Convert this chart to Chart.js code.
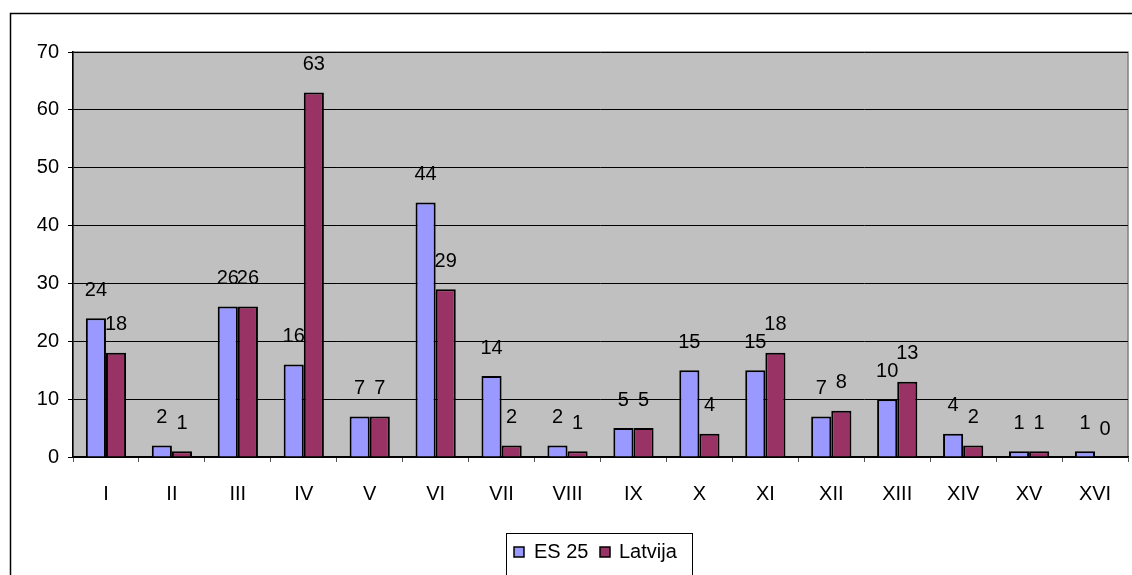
<!DOCTYPE html>
<html>
<head>
<meta charset="utf-8">
<script src="https://cdn.jsdelivr.net/npm/chart.js@4/dist/chart.umd.min.js"></script>
<style>
  html, body { margin: 0; padding: 0; background: #fff; }
  #wrap { width: 1132px; height: 575px; position: relative; }
</style>
</head>
<body>
<div id="wrap"><canvas id="chart" width="1132" height="575"></canvas></div>
<script>
const categories = ['I', 'II', 'III', 'IV', 'V', 'VI', 'VII', 'VIII', 'IX', 'X', 'XI', 'XII', 'XIII', 'XIV', 'XV', 'XVI'];
const es25 = [24, 2, 26, 16, 7, 44, 14, 2, 5, 15, 15, 7, 10, 4, 1, 1];
const latvija = [18, 1, 26, 63, 7, 29, 2, 1, 5, 4, 18, 8, 13, 2, 1, 0];
const seriesNames = ['ES 25', 'Latvija'];
const seriesColors = ['#9999FF', '#993366'];
const yTicks = [0, 10, 20, 30, 40, 50, 60, 70];

const FONT = 'Arial, "Liberation Sans", sans-serif';

const framePlugin = {
  id: 'frame',
  beforeDraw(chart) {
    const { ctx, chartArea: a } = chart;
    ctx.save();
    ctx.fillStyle = '#fff';
    ctx.fillRect(0, 0, chart.width, chart.height);
    // outer chart border
    ctx.strokeStyle = '#000';
    ctx.lineWidth = 1.5;
    ctx.strokeRect(10.5, 13.5, chart.width + 20, chart.height + 20);
    // plot background
    ctx.fillStyle = '#C0C0C0';
    ctx.fillRect(a.left, a.top, a.right - a.left, a.bottom - a.top);
    ctx.strokeStyle = '#808080';
    ctx.lineWidth = 1.5;
    ctx.strokeRect(a.left, a.top, a.right - a.left, a.bottom - a.top);
    ctx.restore();
  },
  afterDraw(chart) {
    const { ctx } = chart;
    ctx.save();
    // value labels
    ctx.font = '20px ' + FONT;
    ctx.fillStyle = '#000';
    ctx.textAlign = 'center';
    ctx.textBaseline = 'middle';
    chart.data.datasets.forEach((ds, i) => {
      chart.getDatasetMeta(i).data.forEach((bar, j) => {
        ctx.fillText(String(ds.data[j]), bar.x, bar.y - 28);
      });
    });
    // legend
    ctx.strokeStyle = '#000';
    ctx.lineWidth = 1;
    ctx.strokeRect(506.5, 533.5, 186, 60);
    const items = [
      { x: 514, tx: 534 },
      { x: 600, tx: 619 }
    ];
    ctx.textAlign = 'left';
    items.forEach((it, i) => {
      ctx.fillStyle = seriesColors[i];
      ctx.fillRect(it.x, 547, 10, 10);
      ctx.strokeStyle = '#000';
      ctx.lineWidth = 1.5;
      ctx.strokeRect(it.x, 547, 10, 10);
      ctx.fillStyle = '#000';
      ctx.fillText(seriesNames[i], it.tx, 552);
    });
    ctx.restore();
  }
};

new Chart(document.getElementById('chart'), {
  type: 'bar',
  data: {
    labels: categories,
    datasets: [
      { label: seriesNames[0], data: es25, backgroundColor: seriesColors[0], borderColor: '#000', borderWidth: 2 },
      { label: seriesNames[1], data: latvija, backgroundColor: seriesColors[1], borderColor: '#000', borderWidth: 2 }
    ]
  },
  options: {
    responsive: false,
    animation: false,
    events: [],
    layout: { padding: { left: 0, top: 52, right: 4, bottom: 0 } },
    datasets: { bar: { categoryPercentage: 0.61, barPercentage: 1 } },
    plugins: { legend: { display: false }, tooltip: { enabled: false } },
    scales: {
      x: {
        afterFit: (s) => { s.height = 118; },
        border: { display: true, color: '#000', width: 1.5 },
        grid: { offset: true, drawOnChartArea: false, drawTicks: true, tickLength: 5, color: '#555', lineWidth: 1 },
        ticks: { color: '#000', font: { family: FONT, size: 20 }, padding: 20 }
      },
      y: {
        min: 0,
        max: 70,
        afterFit: (s) => { s.width = 73; },
        afterBuildTicks: (s) => { s.ticks = yTicks.map(v => ({ value: v })); },
        border: { display: true, color: '#000', width: 1.5 },
        grid: { color: '#000', lineWidth: 1, tickLength: 5 },
        ticks: { color: '#000', font: { family: FONT, size: 20 }, padding: 9 }
      }
    }
  },
  plugins: [framePlugin]
});
</script>
</body>
</html>
